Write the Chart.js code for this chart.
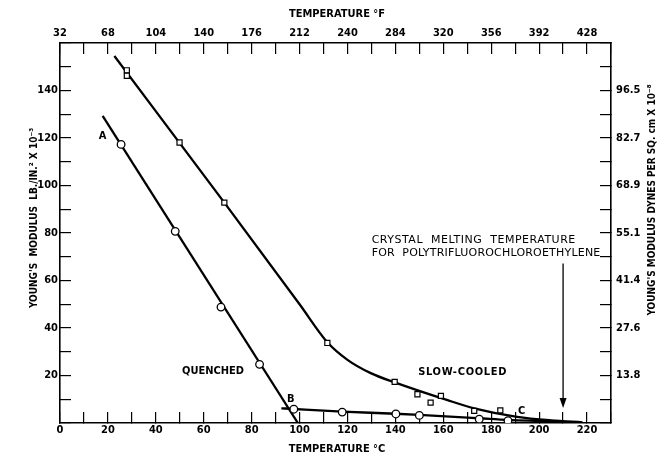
<!DOCTYPE html>
<html><head><meta charset="utf-8">
<script src="https://cdn.jsdelivr.net/npm/chart.js@4.4.0/dist/chart.umd.min.js"></script>
<style>html,body{margin:0;padding:0;background:#fff;}</style>
</head><body>
<canvas id="c" width="665" height="460"></canvas>
<script>
// ---- data ----
const bottomLabelsC = ['0','20','40','60','80','100','120','140','160','180','200','220'];
const topLabelsF = ['32','68','104','140','176','212','240','284','320','356','392','428'];
const leftLabels = ['20','40','60','80','100','120','140'];
const rightLabelsDynes = ['13.8','27.6','41.4','55.1','68.9','82.7','96.5'];

const quenchedTemp = [25.5, 48.1, 67.2, 83.3, 97.6, 117.8, 140.2, 150, 175, 187];
const quenchedModulus = [117.3, 80.7, 48.8, 24.7, 5.8, 4.6, 3.8, 3.2, 1.6, 1.0];
const slowTemp = [27.9, 27.9, 49.9, 68.6, 111.6, 139.7, 149.2, 154.7, 159, 172.9, 183.8];
const slowModulus = [148.5, 146.2, 118.1, 92.8, 33.7, 17.3, 12.1, 8.6, 11.4, 5.1, 5.3];

const quenchedSteepTemp = [17.8, 99.3];
const quenchedSteepModulus = [129.3, 0];
const quenchedFlatTemp = [92.4, 97.6, 117.8, 140, 150, 175, 187, 218];
const quenchedFlatModulus = [6.2, 5.9, 4.8, 3.9, 3.4, 2.0, 1.3, 0.3];
const slowCurveTemp = [22.7, 68.6, 100, 111.6, 120, 129.7, 139.7, 161.8, 172.9, 190.8, 205, 218];
const slowCurveModulus = [154.5, 92.8, 50.0, 34.0, 26.6, 21.0, 17.1, 9.6, 6.2, 2.6, 1.1, 0.3];

const meltingTemp = 210;
const meltingArrowTop = 67.2;
const meltingArrowTip = 6.3;

const notes = [
  {text: 'A', x: 17.8, y: 120.8, align: 'center', bold: true, spacing: 0},
  {text: 'B', x: 96.3, y: 10.1, align: 'center', bold: true, spacing: 0},
  {text: 'C', x: 192.7, y: 5.1, align: 'center', bold: true, spacing: 0},
  {text: 'QUENCHED', x: 63.9, y: 22.0, align: 'center', bold: true, spacing: 0},
  {text: 'SLOW-COOLED', x: 168.1, y: 21.6, align: 'center', bold: true, spacing: 0.7},
  {text: 'CRYSTAL  MELTING  TEMPERATURE', x: 130.1, y: 76.8, align: 'left', bold: false, spacing: 0.5},
  {text: 'FOR  POLYTRIFLUOROCHLOROETHYLENE', x: 130.1, y: 71.5, align: 'left', bold: false, spacing: 0.2}
];

const pts = (xs, ys) => xs.map((x, i) => ({x, y: ys[i]}));

const FONT = "'DejaVu Sans Condensed', 'Liberation Sans Narrow', 'DejaVu Sans', sans-serif";
const WIDE = "'DejaVu Sans', sans-serif";

function fixSize(w, h) {
  return function (scale) {
    if (w !== null) scale.width = w;
    if (h !== null) scale.height = h;
  };
}

const tickFont = {family: FONT, size: 11, weight: 'bold'};
const gridOpts = {drawOnChartArea: false, color: '#000', lineWidth: 1.2, tickLength: -11};
const borderOpts = {display: true, color: '#000', width: 1.6};

const annot = {
  id: 'annot',
  beforeDraw(chart) {
    const ctx = chart.ctx;
    ctx.save();
    ctx.fillStyle = '#fff';
    ctx.fillRect(0, 0, chart.width, chart.height);
    ctx.restore();
  },
  afterDatasetsDraw(chart) {
    const ctx = chart.ctx;
    const xs = chart.scales.x, ys = chart.scales.y;
    ctx.save();
    ctx.fillStyle = '#000';
    ctx.strokeStyle = '#000';
    ctx.textBaseline = 'middle';
    notes.forEach(n => {
      ctx.font = n.bold ? ('bold 11px ' + FONT) : ('11px ' + WIDE);
      ctx.letterSpacing = n.spacing + 'px';
      ctx.textAlign = n.align;
      ctx.fillText(n.text, xs.getPixelForValue(n.x), ys.getPixelForValue(n.y));
    });
    ctx.letterSpacing = '0px';
    // arrow
    const ax = xs.getPixelForValue(meltingTemp);
    const ay1 = ys.getPixelForValue(meltingArrowTop);
    const ay2 = ys.getPixelForValue(meltingArrowTip);
    ctx.lineWidth = 1.3;
    ctx.beginPath();
    ctx.moveTo(ax, ay1);
    ctx.lineTo(ax, ay2 - 4);
    ctx.stroke();
    ctx.beginPath();
    ctx.moveTo(ax - 3.5, ay2 - 10);
    ctx.lineTo(ax + 3.5, ay2 - 10);
    ctx.lineTo(ax, ay2);
    ctx.closePath();
    ctx.fill();
    // axis titles
    ctx.font = 'bold 11px ' + FONT;
    ctx.textAlign = 'center';
    ctx.fillText('TEMPERATURE °F', 337, 14);
    ctx.fillText('TEMPERATURE °C', 337, 449);
    ctx.font = 'bold 10px ' + FONT;
    ctx.save();
    ctx.translate(34, 218);
    ctx.rotate(-Math.PI / 2);
    ctx.fillText("YOUNG'S  MODULUS  LB./IN.² X 10⁻³", 0, 0);
    ctx.restore();
    ctx.save();
    ctx.translate(652, 200);
    ctx.rotate(-Math.PI / 2);
    ctx.fillText("YOUNG'S MODULUS DYNES PER SQ. cm X 10⁻⁸", 0, 0);
    ctx.restore();
    ctx.restore();
  }
};

new Chart(document.getElementById('c'), {
  type: 'scatter',
  data: {
    datasets: [
      {label: 'Quenched', data: pts(quenchedTemp, quenchedModulus), pointStyle: 'circle', pointRadius: 3.8,
       backgroundColor: '#fff', borderColor: '#000', borderWidth: 1.3, showLine: false, order: 0},
      {label: 'Slow-cooled', data: pts(slowTemp, slowModulus), pointStyle: 'rect', pointRadius: 3.6,
       backgroundColor: '#fff', borderColor: '#000', borderWidth: 1.2, showLine: false, order: 0},
      {label: 'q-steep', data: pts(quenchedSteepTemp, quenchedSteepModulus), showLine: true, pointRadius: 0,
       borderColor: '#000', borderWidth: 2.3, order: 1},
      {label: 'q-flat', data: pts(quenchedFlatTemp, quenchedFlatModulus), showLine: true, pointRadius: 0,
       borderColor: '#000', borderWidth: 2.3, cubicInterpolationMode: 'monotone', order: 1},
      {label: 's-curve', data: pts(slowCurveTemp, slowCurveModulus), showLine: true, pointRadius: 0,
       borderColor: '#000', borderWidth: 2.3, cubicInterpolationMode: 'monotone', order: 1}
    ]
  },
  options: {
    responsive: false,
    animation: false,
    devicePixelRatio: 1,
    layout: {padding: 0},
    plugins: {legend: {display: false}, tooltip: {enabled: false}},
    scales: {
      x: {type: 'linear', position: 'bottom', min: 0, max: 230,
          grid: gridOpts, border: borderOpts, afterFit: fixSize(null, 37),
          ticks: {stepSize: 10, autoSkip: false, maxRotation: 0, color: '#000', font: tickFont, padding: 12,
                  callback: v => (v % 20 === 0 && v / 20 < bottomLabelsC.length) ? bottomLabelsC[v / 20] : ''}},
      x2: {type: 'linear', position: 'top', min: 0, max: 230,
          grid: gridOpts, border: borderOpts, afterFit: fixSize(null, 43),
          ticks: {stepSize: 10, autoSkip: false, maxRotation: 0, color: '#000', font: tickFont, padding: 14,
                  callback: v => (v % 20 === 0 && v / 20 < topLabelsF.length) ? topLabelsF[v / 20] : ''}},
      y: {type: 'linear', position: 'left', min: 0, max: 160,
          grid: gridOpts, border: borderOpts, afterFit: fixSize(60, null),
          ticks: {stepSize: 10, autoSkip: false, color: '#000', font: tickFont, padding: 13,
                  callback: v => (v % 20 === 0 && v > 0 && v / 20 <= leftLabels.length) ? leftLabels[v / 20 - 1] : ''}},
      y2: {type: 'linear', position: 'right', min: 0, max: 160,
          grid: gridOpts, border: borderOpts, afterFit: fixSize(54, null),
          ticks: {stepSize: 10, autoSkip: false, color: '#000', font: tickFont, padding: 16,
                  callback: v => (v % 20 === 0 && v > 0 && v / 20 <= rightLabelsDynes.length) ? rightLabelsDynes[v / 20 - 1] : ''}}
    }
  },
  plugins: [annot]
});
</script>
</body></html>
